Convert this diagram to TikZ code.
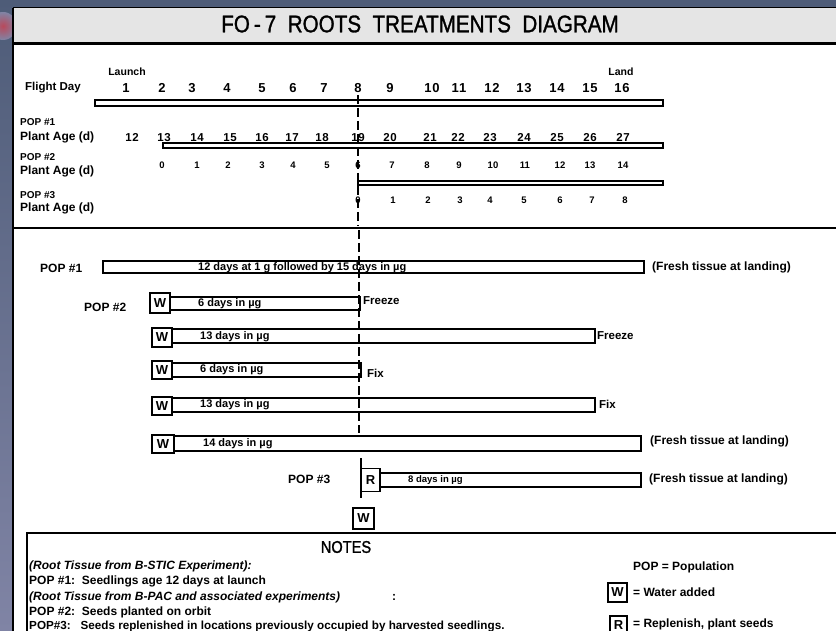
\documentclass[tikz,border=0pt]{standalone}
\usepackage{fontspec}
\setmainfont{Liberation Sans}
\newfontfamily\narrowfont[FakeStretch=0.86,FakeBold=1.2]{Liberation Sans}
\newfontfamily\spacedfont[LetterSpace=6]{Liberation Sans}
\definecolor{bgleft}{RGB}{128,132,165}
\definecolor{bgtop}{RGB}{78,92,120}
\definecolor{titlegray}{RGB}{229,229,229}
\tikzset{
  lbl/.style={inner sep=0pt, anchor=west, font=\bfseries\fontsize{#1}{#1}\selectfont},
  lbl/.default=12,
  ilbl/.style={inner sep=0pt, anchor=west, font=\bfseries\itshape\fontsize{12}{12}\selectfont},
  daynum/.style={inner sep=0pt, anchor=base, font=\spacedfont\bfseries\fontsize{13}{13}\selectfont},
  agenum/.style={inner sep=0pt, anchor=base, font=\spacedfont\bfseries\fontsize{11.5}{11.5}\selectfont},
  smallnum/.style={inner sep=0pt, anchor=base, font=\bfseries\fontsize{9.5}{9.5}\selectfont},
  thinbar/.style={draw=black, line width=1.1pt, fill=white},
  bar/.style={draw=black, line width=1.3pt, fill=white},
  keybox/.style={draw=black, line width=1.5pt, fill=white, inner sep=0pt,
    font=\bfseries\fontsize{13}{13}\selectfont},
  daydash/.style={black, line width=1.2pt, dash pattern=on 9pt off 4pt},
}
\begin{document}
\begin{tikzpicture}[x=1pt,y=-1pt]
\useasboundingbox (0,0) rectangle (836,631);
% background (space picture)
\shade[top color=bgtop, bottom color=bgleft] (0,0) rectangle (836,631);
\shade[inner color=red!45!bgleft, outer color=bgleft] (3,26) circle (14);
\fill[bgtop] (13,0) rectangle (836,8);
% panel
\fill[white] (13,8) rectangle (840,640);
\draw[fill=titlegray, line width=1pt] (13,8) rectangle (845,44);
\draw[line width=3pt] (13,44) -- (845,44);
\draw[line width=1.5pt] (13,8) -- (13,640);
\node[inner sep=0pt, font=\narrowfont\fontsize{24}{24}\selectfont] (title) at (420,24)
  {FO\,-\,7\ \ ROOTS\ \ TREATMENTS\ \ DIAGRAM};

% ---------- top section: timeline ----------
\node[lbl=11.5] (fd) at (25,88) {Flight Day};
\node[inner sep=0pt, font=\bfseries\fontsize{10.5}{10.5}\selectfont] (launch) at (127,72) {Launch};
\node[inner sep=0pt, font=\bfseries\fontsize{10.5}{10.5}\selectfont] (land) at (621,72) {Land};
\foreach \n/\x in {1/126,2/162,3/192,4/227,5/262,6/293,7/324,8/358,9/390,10/432,11/459,12/492,13/524,14/557,15/590,16/622}
  \node[daynum] (d\n) at (\x,92.6) {\n};
\draw[thinbar] (95,100) rectangle (663,106);

\node[lbl=10] (p1) at (20,122) {POP \#1};
\node[lbl] (pa1) at (20,137) {Plant Age (d)};
\foreach \n/\x in {12/132,13/164,14/197,15/230,16/262,17/292,18/322,19/358,20/390,21/430,22/458,23/490,24/524,25/557,26/590,27/623}
  \node[agenum] (a\n) at (\x,141.1) {\n};
\draw[thinbar] (163,143) rectangle (663,148);

\node[lbl=10] (p2) at (20,157) {POP \#2};
\node[lbl] (pa2) at (20,171) {Plant Age (d)};
\foreach \n/\x in {0/162,1/197,2/228,3/262,4/293,5/327,6/358,7/392,8/427,9/459,10/493,11/525,12/560,13/590,14/623}
  \node[smallnum] (b\n) at (\x,168.4) {\n};
\draw[thinbar] (358,181) rectangle (663,185);
\draw[line width=1.1pt] (358,177) -- (358,188);

\node[lbl=10] (p3) at (20,195) {POP \#3};
\node[lbl] (pa3) at (20,208) {Plant Age (d)};
\foreach \n/\x in {0/358,1/393,2/428,3/460,4/490,5/524,6/560,7/592,8/625}
  \node[smallnum] (c\n) at (\x,203.4) {\n};

\draw[line width=2.5pt] (13,228) -- (845,228);

% ---------- middle section: treatments ----------
\node[lbl] (m1) at (40,268) {POP \#1};
\draw[bar] (103,261) rectangle (644,273);
\node[lbl=11] (t1) at (198,267.5) {12 days at 1 g followed by 15 days in µg};
\node[lbl] (f1) at (652,267) {(Fresh tissue at landing)};

\node[lbl] (m2) at (84,307) {POP \#2};
% row 1
\draw[bar] (170,297) rectangle (360,310);
\node[keybox, minimum width=20pt, minimum height=20pt] (w1) at (160,303) {W};
\node[lbl=11] (t2) at (198,304) {6 days in µg};
\node[lbl=11.5] (e2) at (363,301) {Freeze};
% row 2
\draw[bar] (172,329) rectangle (595,343);
\node[keybox, minimum width=20pt, minimum height=19pt] (w2) at (162,337.5) {W};
\node[lbl=11] (t3) at (200,336.5) {13 days in µg};
\node[lbl=11.5] (e3) at (597,336) {Freeze};
% row 3
\draw[bar] (172,363) rectangle (361,377);
\node[keybox, minimum width=20pt, minimum height=18pt] (w3) at (162,370) {W};
\node[lbl=11] (t4) at (200,370) {6 days in µg};
\node[lbl=11.5] (e4) at (367,373) {Fix};
% row 4
\draw[bar] (172,398) rectangle (595,412);
\node[keybox, minimum width=20pt, minimum height=18pt] (w4) at (162,406) {W};
\node[lbl=11] (t5) at (200,405) {13 days in µg};
\node[lbl=11.5] (e5) at (599,404) {Fix};
% row 5
\draw[bar] (174,436) rectangle (641,451);
\node[keybox, minimum width=22pt, minimum height=18pt] (w5) at (163,444) {W};
\node[lbl=11] (t6) at (203,444) {14 days in µg};
\node[lbl] (f6) at (650,441) {(Fresh tissue at landing)};

% day-8 line
\coordinate (top8) at (358,95);
\coordinate (mid8) at (358,226);
\coordinate (bot8) at (359,433);
\draw[daydash] (top8) -- (mid8);
\draw[daydash] (359,230) -- (bot8);

% POP #3
\node[lbl] (m3) at (288,479) {POP \#3};
\draw[bar] (380,473) rectangle (641,487);
\node[keybox, minimum width=19pt, minimum height=23pt] (r1) at (370.5,480) {R};
\draw[line width=1.4pt] (361,458) -- (361,498);
\node[lbl=9.5] (t7) at (408,480) {8 days in µg};
\node[lbl] (f7) at (649,479) {(Fresh tissue at landing)};
\node[keybox, minimum width=21pt, minimum height=21pt] (wb) at (363.5,518.5) {W};

% ---------- notes ----------
\draw[line width=2.2pt, fill=white] (27,533) rectangle (850,650);
\node[inner sep=0pt, font=\narrowfont\fontsize{17}{17}\selectfont] (notes) at (346,547) {NOTES};
\node[ilbl] (n1) at (29,566) {(Root Tissue from B-STIC Experiment):};
\node[lbl] (n2) at (29,581) {POP \#1:\ \ Seedlings age 12 days at launch};
\node[ilbl] (n3) at (29,597) {(Root Tissue from B-PAC and associated experiments)};
\node[lbl] (n3c) at (392,597) {:};
\node[lbl] (n4) at (29,612) {POP \#2:\ \ Seeds planted on orbit};
\node[lbl=11.7] (n5) at (29,626) {POP\#3:\ \ \ Seeds replenished in locations previously occupied by harvested seedlings.};
\node[lbl] (k1) at (633,567) {POP = Population};
\node[keybox, minimum width=19pt, minimum height=19pt] (kw) at (617.5,592.5) {W};
\node[lbl] (k2) at (633,592) {= Water added};
\node[keybox, minimum width=17pt, minimum height=19pt] (kr) at (618.5,625.5) {R};
\node[lbl] (k3) at (633,624) {= Replenish, plant seeds};
\end{tikzpicture}
\end{document}
